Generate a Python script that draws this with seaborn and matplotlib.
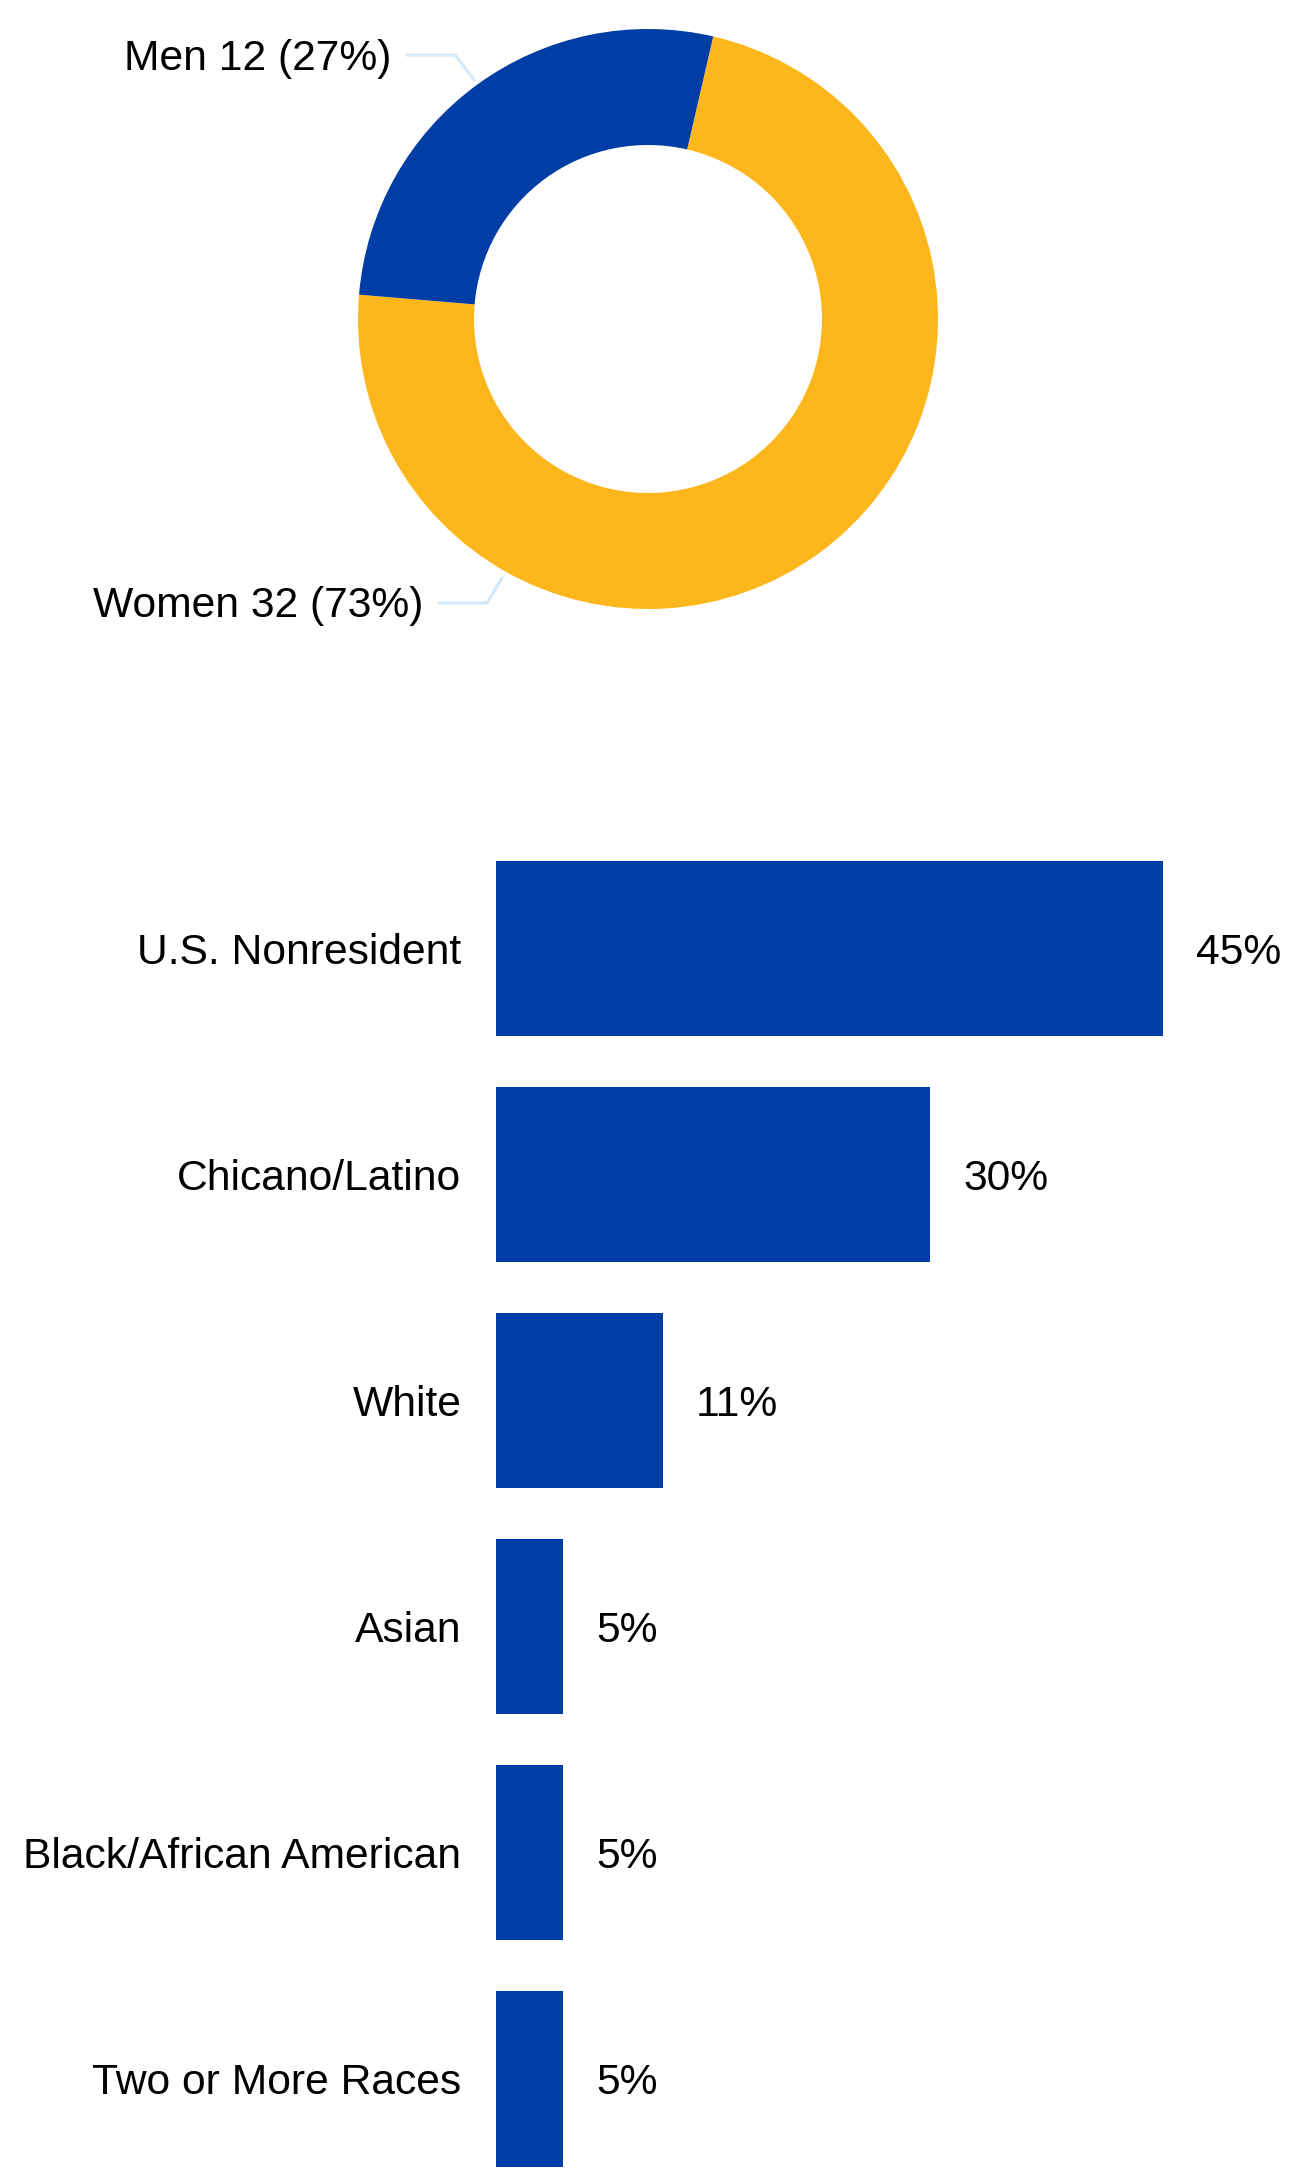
import numpy as np
import pandas as pd
import matplotlib
matplotlib.use("Agg")
import matplotlib.pyplot as plt
import seaborn as sns

# ---- data ----
gender_labels = ["Women", "Men"]
gender_counts = [32, 12]
gender_colors = ["#FDB71C", "#003DA5"]

race_categories = ["U.S. Nonresident", "Chicano/Latino", "White", "Asian",
                   "Black/African American", "Two or More Races"]
race_values = [45.45, 29.55, 11.36, 4.55, 4.55, 4.55]
race_labels = ["45%", "30%", "11%", "5%", "5%", "5%"]

sns.set_theme(style="white")
plt.rcParams['font.family'] = ['Liberation Sans', 'DejaVu Sans']

W, H = 1307, 2174
fig = plt.figure(figsize=(W / 100, H / 100), dpi=100)

# ---- donut ----
cx, cy, r = 648, 319, 290
ax_p = fig.add_axes([(cx - r) / W, (H - cy - r) / H, 2 * r / W, 2 * r / H])
total = sum(gender_counts)
ax_p.pie(gender_counts, colors=gender_colors, startangle=77, counterclock=False,
         radius=1.0, wedgeprops=dict(width=0.4, edgecolor="none", linewidth=0))
ax_p.set_xlim(-1, 1)
ax_p.set_ylim(-1, 1)
ax_p.set_aspect("auto")
ax_p.axis("off")

line_col = "#D6E9F8"
# label geometry: (anchor angle deg, anchor radius, elbow x, line start x, text y)
label_geom = {"Men": (126, 1.02, -0.665, -0.831, 0.910),
              "Women": (240.6, 1.025, -0.555, -0.721, -0.979)}
for lab, cnt in zip(gender_labels, gender_counts):
    ang, rr, ex, sx, ty = label_geom[lab]
    axp = rr * np.cos(np.radians(ang))
    ayp = rr * np.sin(np.radians(ang))
    ax_p.plot([sx, ex, axp], [ty, ty, ayp], color=line_col, lw=2.3,
              solid_capstyle="round", clip_on=False)
    pct = round(100 * cnt / total)
    ax_p.text(sx - 0.055, ty - 0.012, f"{lab} {cnt} ({pct}%)", ha="right",
              va="center", fontsize=30.7, color="black", clip_on=False)

# ---- bars ----
x0 = 496
px_per_unit_x = (1163 - 496) / 45.45
xmax = (W - x0) / px_per_unit_x
c0, step = 948.5, 226.1
top_px = c0 - 0.5 * step
ybottom = (H - c0) / step
ax_b = fig.add_axes([x0 / W, 0, (W - x0) / W, (H - top_px) / H])
df = pd.DataFrame({"cat": race_categories, "val": race_values})
sns.barplot(data=df, x="val", y="cat", orient="h", color="#003DA5",
            width=0.774, saturation=1, ax=ax_b, edgecolor="none", linewidth=0)
ax_b.set_xlim(0, xmax)
ax_b.set_ylim(ybottom, -0.5)
ax_b.set_xlabel("")
ax_b.set_ylabel("")
ax_b.set_xticks([])
for s in ax_b.spines.values():
    s.set_visible(False)
ax_b.tick_params(axis="y", length=0, pad=25, labelsize=30.7, labelcolor="black")
texts = ax_b.bar_label(ax_b.containers[0], labels=race_labels, padding=24,
                       fontsize=30.7, color="black")
for t in texts:
    t.set_va("center_baseline")

fig.savefig("out.png", dpi=100)
